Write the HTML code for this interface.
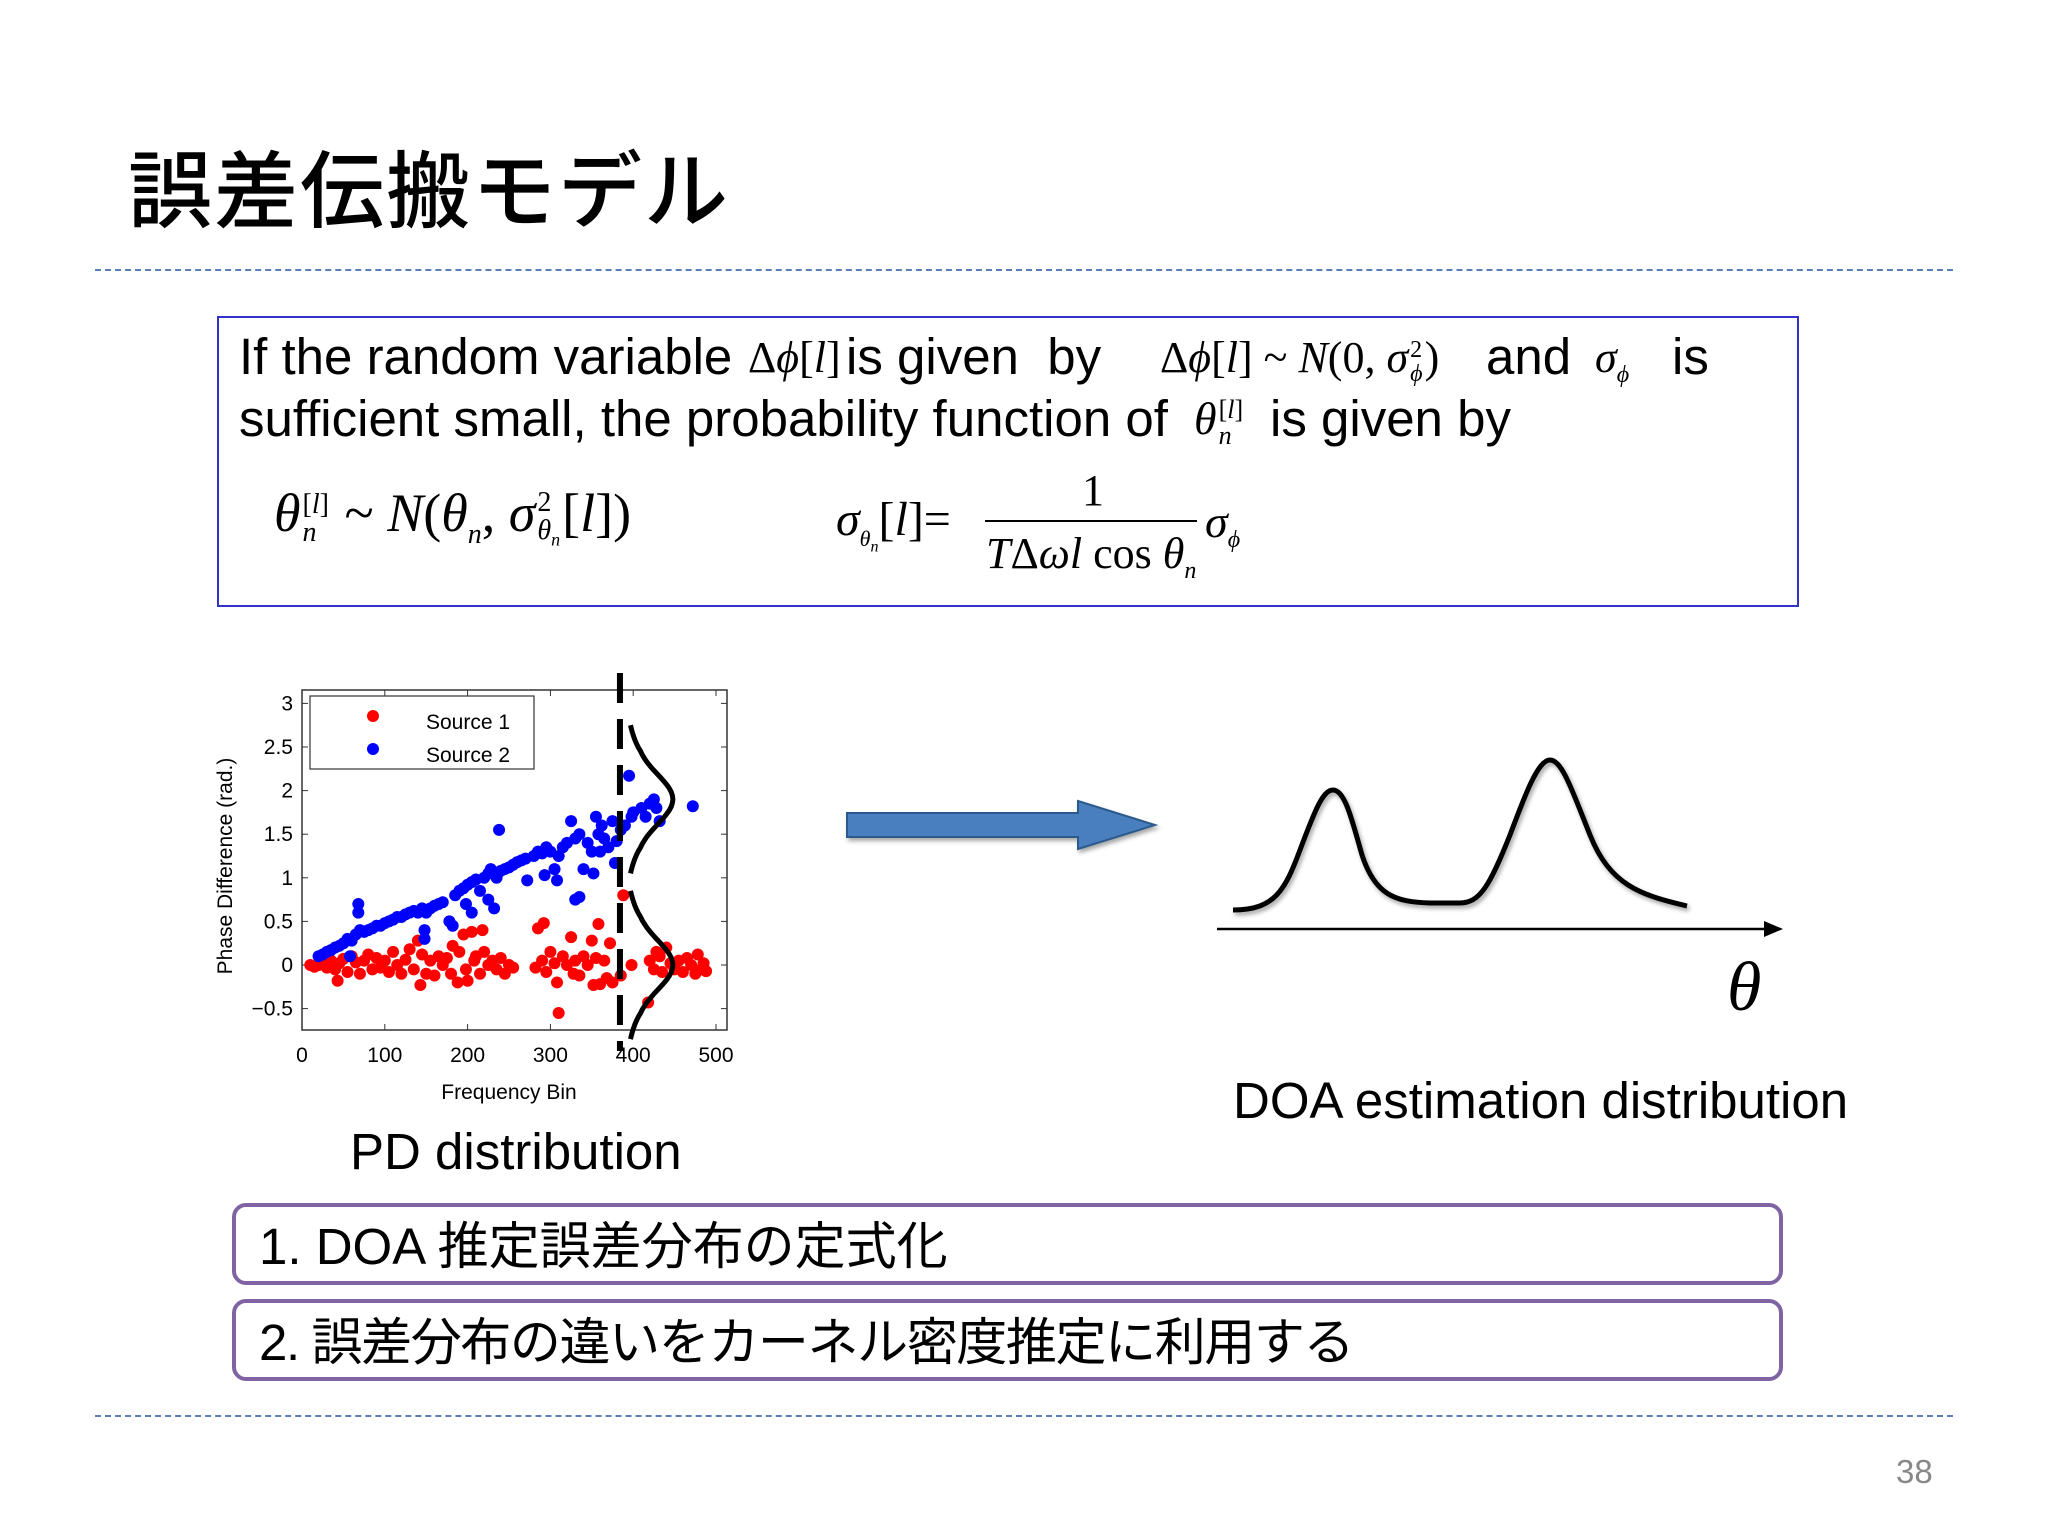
<!DOCTYPE html>
<html><head><meta charset="utf-8">
<style>
body{margin:0;width:2048px;height:1536px;background:#fff;position:relative;overflow:hidden;font-family:"Liberation Sans","Noto Sans CJK JP",sans-serif;color:#000}
.a{position:absolute;white-space:nowrap}
.m{font-family:"Liberation Serif",serif;font-style:italic}
.r{font-family:"Liberation Serif",serif;font-style:normal}
.ss{display:inline-flex;flex-direction:column;vertical-align:middle;line-height:1;margin:0 2px}
.dash{position:absolute;left:95px;width:1858px;border-top:2px dashed #5a7fb8;height:0}
.pbox{position:absolute;left:232px;width:1551px;height:82px;border:4px solid #8064a2;border-radius:14px;box-sizing:border-box}
</style></head><body>
<div class="a" style="left:128px;top:125px;font-size:84px;font-family:'Noto Sans CJK JP',sans-serif;font-weight:500;letter-spacing:2px">誤差伝搬モデル</div>
<div class="dash" style="top:269px"></div>

<div style="position:absolute;left:217px;top:316px;width:1582px;height:291px;border:2.5px solid #3333cc;box-sizing:border-box"></div>
<div class="a" style="left:239px;top:327px;font-size:51px">If the random variable</div>
<div class="a m" style="left:748px;top:332px;font-size:44px"><span class="r">Δ</span>ϕ<span class="r">[</span>l<span class="r">]</span></div>
<div class="a" style="left:846px;top:327px;font-size:51px">is given &nbsp;by</div>
<div class="a m" style="left:1160px;top:332px;font-size:44px"><span class="r">Δ</span>ϕ<span class="r">[</span>l<span class="r">] ~ </span>N<span class="r">(0, </span>σ<span class="ss" style="font-size:24px"><span class="r">2</span><span>ϕ</span></span><span class="r">)</span></div>
<div class="a" style="left:1486px;top:327px;font-size:51px">and</div>
<div class="a m" style="left:1595px;top:332px;font-size:44px">σ<sub style="font-size:24px">ϕ</sub></div>
<div class="a" style="left:1672px;top:327px;font-size:51px">is</div>
<div class="a" style="left:239px;top:389px;font-size:51px">sufficient small, the probability function of</div>
<div class="a m" style="left:1194px;top:392px;font-size:46px">θ<span class="ss" style="font-size:26px"><span class="r">[<i>l</i>]</span><span>n</span></span></div>
<div class="a" style="left:1270px;top:389px;font-size:51px">is given by</div>
<div class="a m" style="left:274px;top:482px;font-size:54px">θ<span class="ss" style="font-size:28px"><span class="r">[<i>l</i>]</span><span>n</span></span><span class="r"> ~ </span>N<span class="r">(</span>θ<sub style="font-size:28px">n</sub><span class="r">, </span>σ<span class="ss" style="font-size:28px"><span class="r">2</span><span>θ<sub style="font-size:18px">n</sub></span></span><span class="r">[</span>l<span class="r">])</span></div>
<div class="a m" style="left:836px;top:492px;font-size:48px">σ<sub style="font-size:22px">θ<sub style="font-size:16px">n</sub></sub><span class="r">[</span>l<span class="r">]=</span></div>
<div class="a r" style="left:1082px;top:465px;font-size:44px">1</div>
<div class="a" style="left:985px;top:520px;width:212px;height:2px;background:#000"></div>
<div class="a m" style="left:986px;top:528px;font-size:44px">T<span class="r">Δ</span>ωl <span class="r">cos</span> θ<sub style="font-size:24px">n</sub></div>
<div class="a m" style="left:1205px;top:495px;font-size:46px">σ<sub style="font-size:24px">ϕ</sub></div>

<svg id="pd" style="position:absolute;left:0;top:0" width="2048" height="1536"></svg>

<div class="a" style="left:350px;top:1122px;font-size:51px">PD distribution</div>

<svg style="position:absolute;left:0;top:0" width="2048" height="1536">
 <defs><filter id="sh" x="-10%" y="-10%" width="120%" height="130%"><feDropShadow dx="2" dy="3" stdDeviation="2" flood-opacity="0.35"/></filter></defs>
 <polygon points="847,813 1078,813 1078,801 1155,825 1078,849 1078,837 847,837" fill="#4a7ebf" stroke="#2c5a8c" stroke-width="2" filter="url(#sh)"/>
 <path filter="url(#sh)" d="M1233,910 C1275,910 1285,890 1300,850 C1315,810 1323,790 1333,790 C1345,790 1352,820 1362,855 C1375,895 1395,902 1430,903 L1460,903 C1480,903 1490,885 1510,835 C1525,795 1538,760 1550,760 C1562,760 1572,790 1590,835 C1610,885 1640,895 1687,906" fill="none" stroke="#000" stroke-width="5"/>
 <line x1="1217" y1="929" x2="1765" y2="929" stroke="#000" stroke-width="2.5"/>
 <polygon points="1764,921 1783,929 1764,937" fill="#000"/>
 <text x="1727" y="1010" font-family="Liberation Serif" font-style="italic" font-size="70">θ</text>
</svg>
<div class="a" style="left:1233px;top:1071px;font-size:51px">DOA estimation distribution</div>

<div class="pbox" style="top:1203px"></div>
<div class="a" style="left:259px;top:1205px;font-size:51px">1. DOA 推定誤差分布の定式化</div>
<div class="pbox" style="top:1299px"></div>
<div class="a" style="left:259px;top:1301px;font-size:51px;letter-spacing:-1.4px">2. 誤差分布の違いをカーネル密度推定に利用する</div>
<div class="dash" style="top:1415px"></div>
<div class="a" style="left:1896px;top:1453px;font-size:33px;color:#888">38</div>

<script>
const xTicks=[0,100,200,300,400,500];
const yTicks=[3,2.5,2,1.5,1,0.5,0,-0.5];
const yTickLabels=["3","2.5","2","1.5","1","0.5","0","\u22120.5"];
const source1=[[10,0],[15,-0.02],[20,0],[25,0.03],[30,-0.03],[35,0.05],[40,-0.05],[43,-0.18],[45,0.02],[50,0.07],[55,-0.08],[60,0.1],[65,0.03],[70,-0.1],[75,0.05],[80,0.12],[85,-0.05],[90,0.08],[95,-0.03],[100,0.05],[105,-0.08],[110,0.15],[115,0],[120,-0.1],[125,0.06],[130,0.18],[135,-0.05],[140,0.28],[143,-0.23],[145,0.12],[150,-0.1],[155,0.05],[160,-0.12],[165,0.1],[170,0],[175,0.08],[180,-0.1],[182,0.22],[188,-0.2],[190,0.15],[195,0.35],[198,-0.05],[200,-0.18],[205,0.38],[208,0.05],[210,0.1],[215,-0.1],[218,0.4],[220,0.15],[225,0],[230,0.05],[235,-0.05],[240,0.08],[245,-0.1],[250,0],[255,-0.03],[282,-0.03],[285,0.42],[290,0.05],[292,0.48],[295,-0.08],[300,0.15],[305,0.02],[308,-0.2],[310,-0.55],[315,0.1],[320,0],[325,0.32],[328,-0.1],[330,0.05],[335,-0.12],[340,0.1],[345,0],[350,0.28],[352,-0.23],[355,0.08],[358,0.47],[360,-0.22],[365,0.05],[368,-0.15],[372,0.25],[375,-0.2],[385,-0.12],[388,0.8],[398,0],[418,-0.43],[420,0.05],[425,-0.05],[428,0.15],[432,0.1],[435,-0.08],[440,0.2],[445,0.02],[450,-0.05],[455,0.05],[460,-0.08],[465,0.08],[470,0],[475,-0.1],[478,0.12],[482,-0.05],[485,0.02],[488,-0.07]];
const source2=[[20,0.1],[25,0.12],[30,0.15],[35,0.17],[40,0.2],[45,0.22],[50,0.25],[55,0.3],[58,0.1],[60,0.28],[65,0.35],[68,0.7],[68,0.6],[70,0.4],[75,0.38],[80,0.4],[85,0.42],[90,0.45],[95,0.45],[100,0.48],[105,0.5],[110,0.52],[115,0.55],[120,0.55],[125,0.58],[130,0.6],[135,0.62],[140,0.6],[145,0.65],[148,0.3],[148,0.4],[150,0.6],[155,0.65],[160,0.68],[165,0.7],[170,0.72],[178,0.5],[182,0.45],[185,0.8],[190,0.85],[195,0.88],[198,0.7],[200,0.92],[205,0.6],[205,0.95],[210,0.98],[215,0.85],[220,1.0],[225,1.05],[225,0.75],[228,1.1],[230,1.05],[232,0.65],[235,1.0],[238,1.55],[240,1.08],[245,1.1],[250,1.12],[255,1.15],[260,1.18],[265,1.2],[270,1.22],[272,0.97],[280,1.25],[285,1.3],[290,1.28],[295,1.35],[293,1.03],[300,1.3],[305,1.1],[308,0.97],[310,1.25],[315,1.35],[320,1.4],[325,1.65],[330,1.45],[335,1.5],[330,0.75],[335,0.78],[340,1.1],[345,1.4],[350,1.3],[352,1.05],[355,1.7],[358,1.5],[360,1.3],[362,1.6],[365,1.45],[370,1.35],[375,1.65],[380,1.42],[378,1.17],[385,1.55],[390,1.6],[395,2.17],[398,1.7],[400,1.75],[410,1.8],[415,1.7],[420,1.85],[425,1.9],[428,1.8],[432,1.65],[472,1.82]];
const legendLabels=["Source 1","Source 2"];
const dividerBin=[384];
const pdCenters=[1.9,0.0];

const svg=document.getElementById('pd');
const NS='http://www.w3.org/2000/svg';
const X=v=>302+v*0.828;
const Y=v=>965-v*87.2;
function mk(tag,attrs){const e=document.createElementNS(NS,tag);for(const k in attrs)e.setAttribute(k,attrs[k]);svg.appendChild(e);return e;}
const L=302,R=727,T=690,B=1030;
let f=mk('rect',{x:L,y:T,width:R-L,height:B-T,fill:'#fff',stroke:'#333','stroke-width':1.5});


xTicks.forEach(v=>{
 let t=mk('line',{x1:X(v),x2:X(v),y1:B,y2:B-6,stroke:'#333'});
 
 
 mk('line',{x1:X(v),x2:X(v),y1:T,y2:T+6,stroke:'#333'});
 let s=mk('text',{x:X(v),y:1062,'text-anchor':'middle','font-size':21,'font-family':'Liberation Sans'});s.textContent=v;
 
 
});
yTicks.forEach((v,i)=>{
 let t=mk('line',{x1:L,x2:L+6,y1:Y(v),y2:Y(v),stroke:'#333'});
 
 
 mk('line',{x1:R,x2:R-6,y1:Y(v),y2:Y(v),stroke:'#333'});
 let s=mk('text',{x:293,y:Y(v)+7,'text-anchor':'end','font-size':21,'font-family':'Liberation Sans'});s.textContent=yTickLabels[i];
 
 
});
source1.forEach(p=>{let c=mk('circle',{cx:X(p[0]),cy:Y(p[1]),r:6,fill:'#f00'});
 
 });
source2.forEach(p=>{let c=mk('circle',{cx:X(p[0]),cy:Y(p[1]),r:6,fill:'#00f'});
 
 });
let dl=mk('line',{x1:X(dividerBin[0]),x2:X(dividerBin[0]),y1:673,y2:1051,stroke:'#000','stroke-width':6,'stroke-dasharray':'30,16'});


pdCenters.forEach(c=>{
 let d='';
 for(let k=0;k<=40;k++){const dy=-0.85+k*1.7/40;const yv=c+dy;const xv=X(402)+ 38*Math.exp(-dy*dy/(2*0.08))- (Math.abs(dy)>0.55?(Math.abs(dy)-0.55)*16:0);d+=(k?'L':'M')+xv.toFixed(1)+','+Y(yv).toFixed(1);}
 let p=mk('path',{d:d,fill:'none',stroke:'#000','stroke-width':5});
 
 
});
let lg=mk('rect',{x:310,y:696,width:224,height:73,fill:'#fff',stroke:'#333','stroke-width':1.2});


['#f00','#00f'].forEach((col,i)=>{
 let c=mk('circle',{cx:373,cy:716+i*33,r:6,fill:col});
 
 
 let t=mk('text',{x:426,y:729+i*33,'font-size':21,'font-family':'Liberation Sans'});t.textContent=legendLabels[i];
 
 
});
let xt=mk('text',{x:509,y:1099,'text-anchor':'middle','font-size':21,'font-family':'Liberation Sans'});xt.textContent='Frequency Bin';


let yt=mk('text',{x:0,y:0,'text-anchor':'middle','font-size':21,'font-family':'Liberation Sans',transform:'translate(232,866) rotate(-90)'});yt.textContent='Phase Difference (rad.)';


</script>
</body></html>
